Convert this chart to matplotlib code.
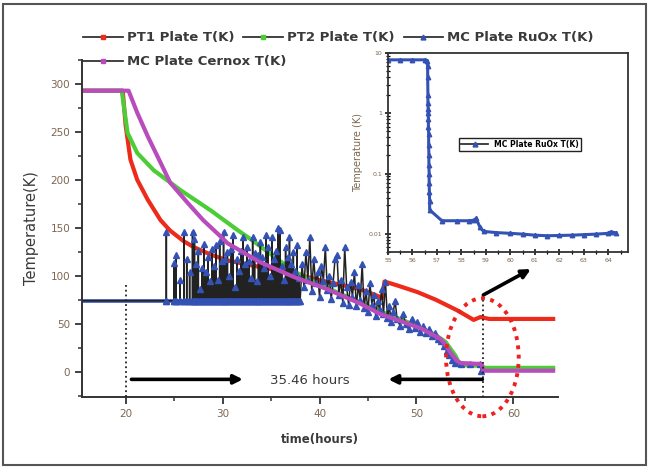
import numpy as np
import matplotlib
matplotlib.use("Agg")
import matplotlib.pyplot as plt
from matplotlib.lines import Line2D
from matplotlib.patches import Ellipse, Rectangle
from matplotlib.ticker import MultipleLocator

plt.rcParams['font.family'] = ['DejaVu Sans']

# PT1 plate (red)
pt1_t = [15.5, 19.7, 20.0, 20.5, 21.2, 22.3, 23.6, 24.6, 26.0, 27.0, 28.8, 30.5, 33.9,
         37.0, 39.8, 42.0, 44.2, 46.5, 46.7, 48.0, 50.1, 52.0, 54.2, 55.9, 56.6, 57.5, 64.1]
pt1_T = [293, 293, 257, 221, 200, 179, 158, 147, 136, 130, 122, 116, 109,
         103, 96, 91, 86, 77, 94, 90, 83, 75, 64, 54, 57, 55, 55]

# PT2 plate (green)
pt2_t = [15.5, 19.6, 20.2, 21.2, 22.9, 25.7, 28.8, 31.5, 33.2, 35.7, 37.5, 40.0, 42.0,
         44.0, 46.0, 48.0, 50.0, 52.0, 53.0, 54.0, 54.5, 56.8, 57.0, 64.1]
pt2_T = [293, 293, 249, 228, 210, 189, 168, 148, 136, 117, 104, 91, 82,
         73, 64, 56, 48, 38, 31, 17, 7, 6, 4, 4]

# MC plate Cernox (magenta)
cx_t = [15.5, 20.3, 21.2, 22.3, 23.6, 24.6, 26.4, 28.0, 29.8, 30.5, 33.9, 37.3, 40.8,
        44.2, 46.3, 48.3, 50.5, 52.5, 53.0, 53.5, 54.2, 54.6, 56.7, 56.9, 64.1]
cx_T = [293, 293, 270, 245, 218, 197, 176, 158, 141, 134, 114, 99, 86,
        71, 60, 53, 45, 34, 28, 20, 11, 9, 8, 1, 1]

# MC plate RuOx (blue): over-range reading plus spikes, then real readings
ruox_base = 74
ruox_base_end = 38.0
spike_t = [24.2, 25.0, 25.2, 25.6, 26.0, 26.3, 26.6, 26.9, 27.1, 27.3,
           27.5, 27.7, 27.9, 28.1, 28.3, 28.5, 28.7, 28.9, 29.1, 29.3,
           29.5, 29.7, 29.9, 30.1, 30.3, 30.5, 30.7, 30.9, 31.1, 31.3,
           31.5, 31.7, 31.9, 32.1, 32.3, 32.5, 32.7, 32.9, 33.1, 33.3,
           33.5, 33.7, 33.9, 34.1, 34.3, 34.5, 34.7, 34.9, 35.1, 35.3,
           35.5, 35.7, 35.9, 36.1, 36.3, 36.5, 36.7, 36.9, 37.1, 37.3,
           37.5, 37.7, 37.9]
spike_T = [146, 113, 122, 96, 146, 118, 104, 146, 138, 112,
           126, 86, 108, 133, 104, 120, 95, 128, 110, 132,
           96, 136, 115, 146, 118, 125, 100, 128, 143, 88,
           118, 105, 126, 140, 112, 130, 115, 98, 140, 124,
           95, 122, 135, 120, 108, 143, 130, 100, 140, 118,
           126, 150, 148, 110, 96, 130, 120, 140, 112, 125,
           105, 132, 98]
ruox_t = [38.2, 38.4, 38.6, 38.8, 39.0, 39.2, 39.4, 39.6, 39.8, 40.0,
          40.2, 40.4, 40.6, 40.8, 41.0, 41.2, 41.4, 41.6, 41.8, 42.0,
          42.2, 42.4, 42.6, 42.8, 43.0, 43.2, 43.4, 43.6, 43.8, 44.0,
          44.2, 44.4, 44.6, 44.8, 45.0, 45.2, 45.4, 45.6, 45.8, 46.0,
          46.2, 46.4, 46.6, 46.8, 47.0, 47.2, 47.4, 47.6, 47.8, 48.0,
          48.3, 48.6, 48.9, 49.2, 49.5, 49.8, 50.1, 50.4, 50.7, 51.0,
          51.3, 51.6, 51.9, 52.2, 52.5, 52.8, 53.1, 53.4, 53.7, 54.0,
          54.6, 55.5, 56.6, 56.7]
ruox_T = [112, 88, 125, 96, 140, 84, 118, 92, 104, 78,
          110, 95, 130, 85, 100, 76, 92, 118, 122, 80,
          96, 72, 130, 88, 70, 94, 78, 104, 68, 90,
          75, 112, 66, 84, 62, 92, 70, 80, 58, 74,
          64, 86, 60, 94, 56, 68, 52, 62, 74, 55,
          48, 60, 50, 44, 55, 46, 52, 41, 48, 40,
          45, 37, 40, 34, 32, 27, 22, 17, 12, 9,
          8, 8, 8, 1]

# inset: RuOx at the end of the cooldown (log scale)
ins_t = [55.0, 55.5, 56.0, 56.5, 56.6, 56.62, 56.62, 56.63, 56.63, 56.64, 56.64, 56.65,
         56.65, 56.66, 56.66, 56.67, 56.67, 56.68, 56.68, 56.69, 56.7, 56.7,
         57.2, 57.8, 58.3, 58.5, 58.6, 58.75, 58.9, 59.4, 60.0, 60.5, 61.0,
         61.5, 62.0, 62.5, 63.0, 63.5, 64.0, 64.1, 64.3]
ins_T = [7.7, 7.7, 7.7, 7.7, 7.5, 6.0, 4.0, 2.0, 1.5, 1.2, 1.0, 0.8,
         0.6, 0.45, 0.3, 0.2, 0.14, 0.1, 0.07, 0.05, 0.035, 0.025,
         0.0165, 0.0165, 0.0165, 0.0168, 0.018, 0.013, 0.011, 0.0105, 0.0102, 0.0099, 0.0095,
         0.0093, 0.0094, 0.0095, 0.0097, 0.0099, 0.0102, 0.0108, 0.0104]

red = '#ee2a1a'
green = '#4ccc36'
magenta = '#b84cbc'
blue = '#3452b4'
tick_col = '#7d6650'
text_col = '#3a3a3a'

fig = plt.figure(figsize=(6.5, 4.68), dpi=100)
fig.patches.append(Rectangle((3 / 650, 3 / 468), 643 / 650, 461 / 468, transform=fig.transFigure,
                             fill=False, edgecolor='#555555', lw=1.5))

ax = fig.add_axes([82 / 650, 71 / 468, 476 / 650, 337 / 468])
ax.set_xlim(15.5, 64.6)
ax.set_ylim(-26.4, 325)

ax.plot(pt1_t, pt1_T, color=red, lw=3, zorder=2)
ax.plot(pt2_t, pt2_T, color=green, lw=3, zorder=2.1)

# RuOx: vertical jumps between over-range level and real readings
st, sT = [15.5], [ruox_base]
for t, v in zip(spike_t, spike_T):
    st += [t, t, t]
    sT += [ruox_base, v, ruox_base]
st += [ruox_base_end] + ruox_t
sT += [ruox_base] + ruox_T
ax.plot([15.5, ruox_base_end], [ruox_base, ruox_base], color=blue, lw=2.6, zorder=2.2)
ax.plot(st, sT, color='#222222', lw=1.1, zorder=2.3)
ax.plot(st[1:], sT[1:], ls='none', marker='^', ms=3.8, color=blue, zorder=2.4)

ax.plot(cx_t, cx_T, color=magenta, lw=3, zorder=2.5)

for s in ['top', 'right']:
    ax.spines[s].set_visible(False)
for s in ['left', 'bottom']:
    ax.spines[s].set_linewidth(1.4)
    ax.spines[s].set_color('#333333')
ax.xaxis.set_major_locator(MultipleLocator(10))
ax.xaxis.set_minor_locator(MultipleLocator(5))
ax.yaxis.set_major_locator(MultipleLocator(50))
ax.yaxis.set_minor_locator(MultipleLocator(25))
ax.tick_params(which='major', direction='out', length=5, width=1.3, color='#333333',
               labelsize=7.5, labelcolor=tick_col)
ax.tick_params(which='minor', direction='out', length=3, width=1.1, color='#333333')
ax.set_ylabel('Temperature(K)', fontsize=10.5, color=text_col, labelpad=8)
ax.set_xlabel('time(hours)', fontsize=8.5, color=text_col, fontweight='bold', labelpad=10)

# markers for the 35.46 h span
ax.plot([20, 20], [90, -26.4], ls=':', color='#222222', lw=1.3, zorder=3)
ax.plot([56.9, 56.9], [80, -26.4], ls=':', color='#222222', lw=1.3, zorder=3)
arrow = dict(arrowstyle='-|>', lw=2.6, color='black', mutation_scale=13, shrinkA=0, shrinkB=0)
ax.annotate('', xy=(32.1, -8), xytext=(20.6, -8), arrowprops=arrow)
ax.annotate('', xy=(47.1, -8), xytext=(56.8, -8), arrowprops=arrow)
ax.annotate('', xy=(61.8, 107), xytext=(56.9, 80), arrowprops=arrow)
ax.text(39.0, -9, '35.46 hours', ha='center', va='center', fontsize=9.5, color=text_col)

ax.add_patch(Ellipse((56.8, 15), 7.5, 123, fill=False, edgecolor='#ee2020', lw=2.8,
                     ls=(0, (1, 1.4)), clip_on=False, zorder=4))

# legend, two rows
h_pt1 = Line2D([0], [0], color='#333333', lw=1.3, marker='s', ms=3, mfc=red, mec=red)
h_pt2 = Line2D([0], [0], color='#333333', lw=1.3, marker='s', ms=3, mfc=green, mec=green)
h_ru = Line2D([0], [0], color='#333333', lw=1.3, marker='^', ms=3.5, mfc=blue, mec=blue)
h_cx = Line2D([0], [0], color='#333333', lw=1.3, marker='s', ms=3, mfc=magenta, mec=magenta)
leg_kw = dict(frameon=False, handlelength=3.0, handletextpad=0.3,
              borderpad=0, borderaxespad=0, loc='center left',
              prop={'weight': 'bold', 'size': 9.5}, labelcolor=text_col)
fig.legend([h_pt1, h_pt2, h_ru], ['PT1 Plate T(K)', 'PT2 Plate T(K)', 'MC Plate RuOx T(K)'],
           ncol=3, columnspacing=0.7, bbox_to_anchor=(83 / 650, 1 - 38 / 468), **leg_kw)
fig.legend([h_cx], ['MC Plate Cernox T(K)'], bbox_to_anchor=(83 / 650, 1 - 62 / 468), **leg_kw)

# inset
axi = fig.add_axes([388 / 650, 216 / 468, 240 / 650, 199 / 468])
axi.set_yscale('log')
axi.set_xlim(55, 64.8)
axi.set_ylim(0.005, 10)
axi.plot(ins_t, ins_T, color=blue, lw=2.2, marker='^', ms=3.2, mfc=blue, mec=blue)
axi.set_yticks([0.01, 0.1, 1, 10], labels=['0.01', '0.1', '1', '10'])
axi.xaxis.set_major_locator(MultipleLocator(1))
axi.xaxis.set_minor_locator(MultipleLocator(0.5))
axi.tick_params(which='major', direction='inout', length=4, width=1.1, labelsize=4.5,
                labelcolor=tick_col, pad=2)
axi.tick_params(which='minor', direction='inout', length=2.5, width=0.9)
for s in axi.spines.values():
    s.set_linewidth(1.3)
    s.set_color('#333333')
axi.set_ylabel('Temperature (K)', fontsize=7, color=tick_col, labelpad=4)
axi.legend([h_ru], ['MC Plate RuOx T(K)'], loc='center left', bbox_to_anchor=(0.28, 0.54),
           prop={'weight': 'bold', 'size': 5.5}, handlelength=3.5,
           fancybox=False, edgecolor='#222222', framealpha=1, borderpad=0.3)

fig.savefig('out.png', dpi=100)
